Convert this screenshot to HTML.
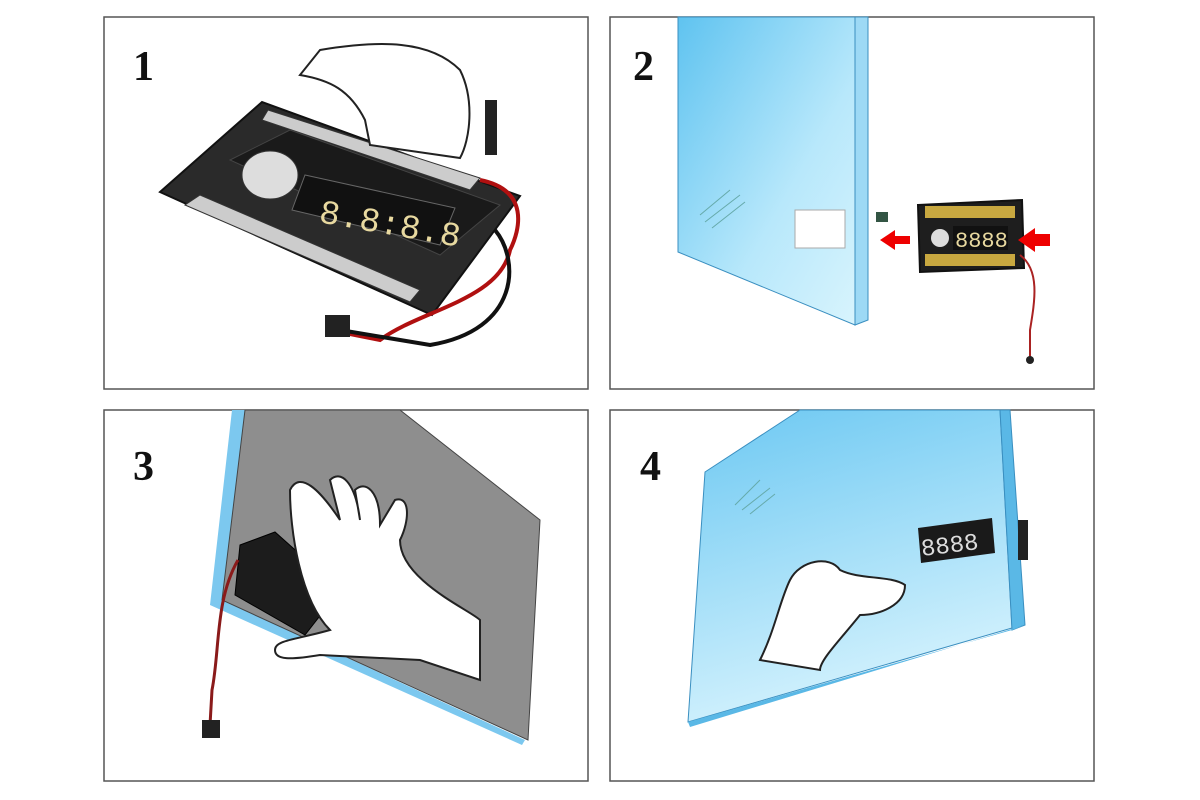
<!DOCTYPE html>
<html><head><meta charset="utf-8"><style>
html,body{margin:0;padding:0;background:#fff;width:1200px;height:800px;overflow:hidden}
</style></head><body>
<svg width="1200" height="800" viewBox="0 0 1200 800" xmlns="http://www.w3.org/2000/svg">
<defs>
<linearGradient id="mg" x1="0" y1="0" x2="1" y2="1">
<stop offset="0" stop-color="#5fc3f0"/><stop offset="0.6" stop-color="#b8e8fb"/><stop offset="1" stop-color="#d8f4fd"/></linearGradient>
<linearGradient id="mg2" x1="0" y1="0" x2="0.3" y2="1">
<stop offset="0" stop-color="#6cc8f2"/><stop offset="1" stop-color="#d4f2fd"/></linearGradient>
</defs>
<g fill="#fff" stroke="#555" stroke-width="1.5">
<rect x="104" y="17" width="484" height="372"/>
<rect x="610" y="17" width="484" height="372"/>
<rect x="104" y="410" width="484" height="371"/>
<rect x="610" y="410" width="484" height="371"/>
</g>
<g font-family="Liberation Serif, serif" font-weight="bold" font-size="42" fill="#111">
<text x="133" y="80">1</text><text x="633" y="80">2</text>
<text x="133" y="480">3</text><text x="640" y="480">4</text>
</g>
<!-- Panel 1 -->
<polygon points="160,192 262,102 520,196 432,315" fill="#2a2a2a" stroke="#111" stroke-width="2"/>
<polygon points="268,110 480,178 470,190 262,120" fill="#ccc" stroke="#333"/>
<polygon points="185,205 200,195 420,290 410,302" fill="#ccc" stroke="#333"/>
<polygon points="230,160 290,130 500,205 440,255" fill="#1a1a1a" stroke="#444"/>
<polygon points="305,175 455,208 440,245 292,210" fill="#111" stroke="#666"/>
<text x="318" y="222" font-family="Liberation Mono, monospace" font-size="34" fill="#e8d9a0" transform="rotate(10 318 222)">8.8:8.8</text>
<ellipse cx="270" cy="175" rx="28" ry="24" fill="#ddd" stroke="#333"/>
<path d="M480 180 C530 190 520 230 510 250 C500 300 420 310 380 340 L330 330" fill="none" stroke="#b01010" stroke-width="4"/>
<path d="M495 230 C520 260 520 330 430 345 L340 330" fill="none" stroke="#111" stroke-width="4"/>
<rect x="325" y="315" width="25" height="22" fill="#222"/>
<path d="M320 50 C380 40 430 40 460 70 C475 100 470 140 460 158 L370 145 L365 120 C350 90 330 80 300 75 Z" fill="#fff" stroke="#222" stroke-width="2"/>
<rect x="485" y="100" width="12" height="55" fill="#222"/>
<!-- Panel 2 -->
<polygon points="678,17 855,17 855,325 678,252" fill="url(#mg)" stroke="#3a8fc0"/>
<polygon points="855,17 868,17 868,320 855,325" fill="#9dd9f5" stroke="#3a8fc0"/>
<rect x="795" y="210" width="50" height="38" fill="#fff" stroke="#aaa"/>
<path d="M700 215 L730 190 M705 222 L740 195 M712 228 L745 202" stroke="#6aa" stroke-width="1"/>
<polygon points="918,205 1022,200 1024,268 920,272" fill="#1e1e1e" stroke="#111" stroke-width="2"/>
<rect x="925" y="206" width="90" height="12" fill="#c8a840"/>
<rect x="925" y="254" width="90" height="12" fill="#c8a840"/>
<rect x="953" y="226" width="55" height="24" fill="#111"/>
<text x="955" y="247" font-family="Liberation Mono, monospace" font-size="22" fill="#e8d9a0">8888</text>
<circle cx="940" cy="238" r="9" fill="#ddd"/>
<polygon points="880,240 895,230 895,236 910,236 910,244 895,244 895,250" fill="#e00"/>
<polygon points="1018,240 1035,228 1035,234 1050,234 1050,246 1035,246 1035,252" fill="#e00"/>
<path d="M1020 255 C1040 270 1035 300 1030 330 L1030 360" fill="none" stroke="#a22" stroke-width="2"/>
<circle cx="1030" cy="360" r="4" fill="#222"/>
<rect x="876" y="212" width="12" height="10" fill="#354"/>
<!-- Panel 3 -->
<polygon points="232,410 245,410 222,600 525,740 522,745 210,605" fill="#7cc8ef"/>
<polygon points="245,410 400,410 540,520 528,740 222,600" fill="#8e8e8e" stroke="#444"/>
<polygon points="240,545 275,532 340,590 305,635 235,595" fill="#1c1c1c" stroke="#000"/>
<path d="M238 560 C215 600 220 650 212 690 L210 725" fill="none" stroke="#8a1a1a" stroke-width="3"/>
<rect x="202" y="720" width="18" height="18" fill="#222"/>
<path d="M290 490 C300 470 320 490 340 520 L330 480 C340 470 355 480 360 520 L355 490 C365 480 380 490 380 525 L395 500 C410 495 410 520 400 540 C400 580 470 610 480 620 L480 680 L420 660 L320 655 C290 660 275 660 275 650 C275 640 295 640 330 630 C300 600 290 530 290 490 Z" fill="#fff" stroke="#222" stroke-width="2"/>
<!-- Panel 4 -->
<polygon points="800,410 1000,410 1012,628 688,722 705,472" fill="url(#mg2)" stroke="#3a8fc0"/>
<polygon points="1000,410 1010,410 1025,625 1012,630" fill="#5ab8e6" stroke="#3a8fc0"/>
<polygon points="688,722 1012,630 1025,625 690,727" fill="#5ab8e6"/>
<rect x="1018" y="520" width="10" height="40" fill="#222"/>
<polygon points="918,528 992,518 995,553 921,563" fill="#1a1a1a"/>
<text x="922" y="556" font-family="Liberation Mono, monospace" font-size="24" fill="#ddd" transform="rotate(-7 922 556)">8888</text>
<path d="M735 505 L760 480 M742 510 L770 488 M750 514 L775 494" stroke="#6aa" stroke-width="1"/>
<path d="M760 660 C775 630 780 600 790 580 C800 560 830 555 840 570 C860 580 890 575 905 585 C905 605 880 615 860 615 C840 640 820 660 820 670 Z" fill="#fff" stroke="#222" stroke-width="2"/>
</svg>
</body></html>
